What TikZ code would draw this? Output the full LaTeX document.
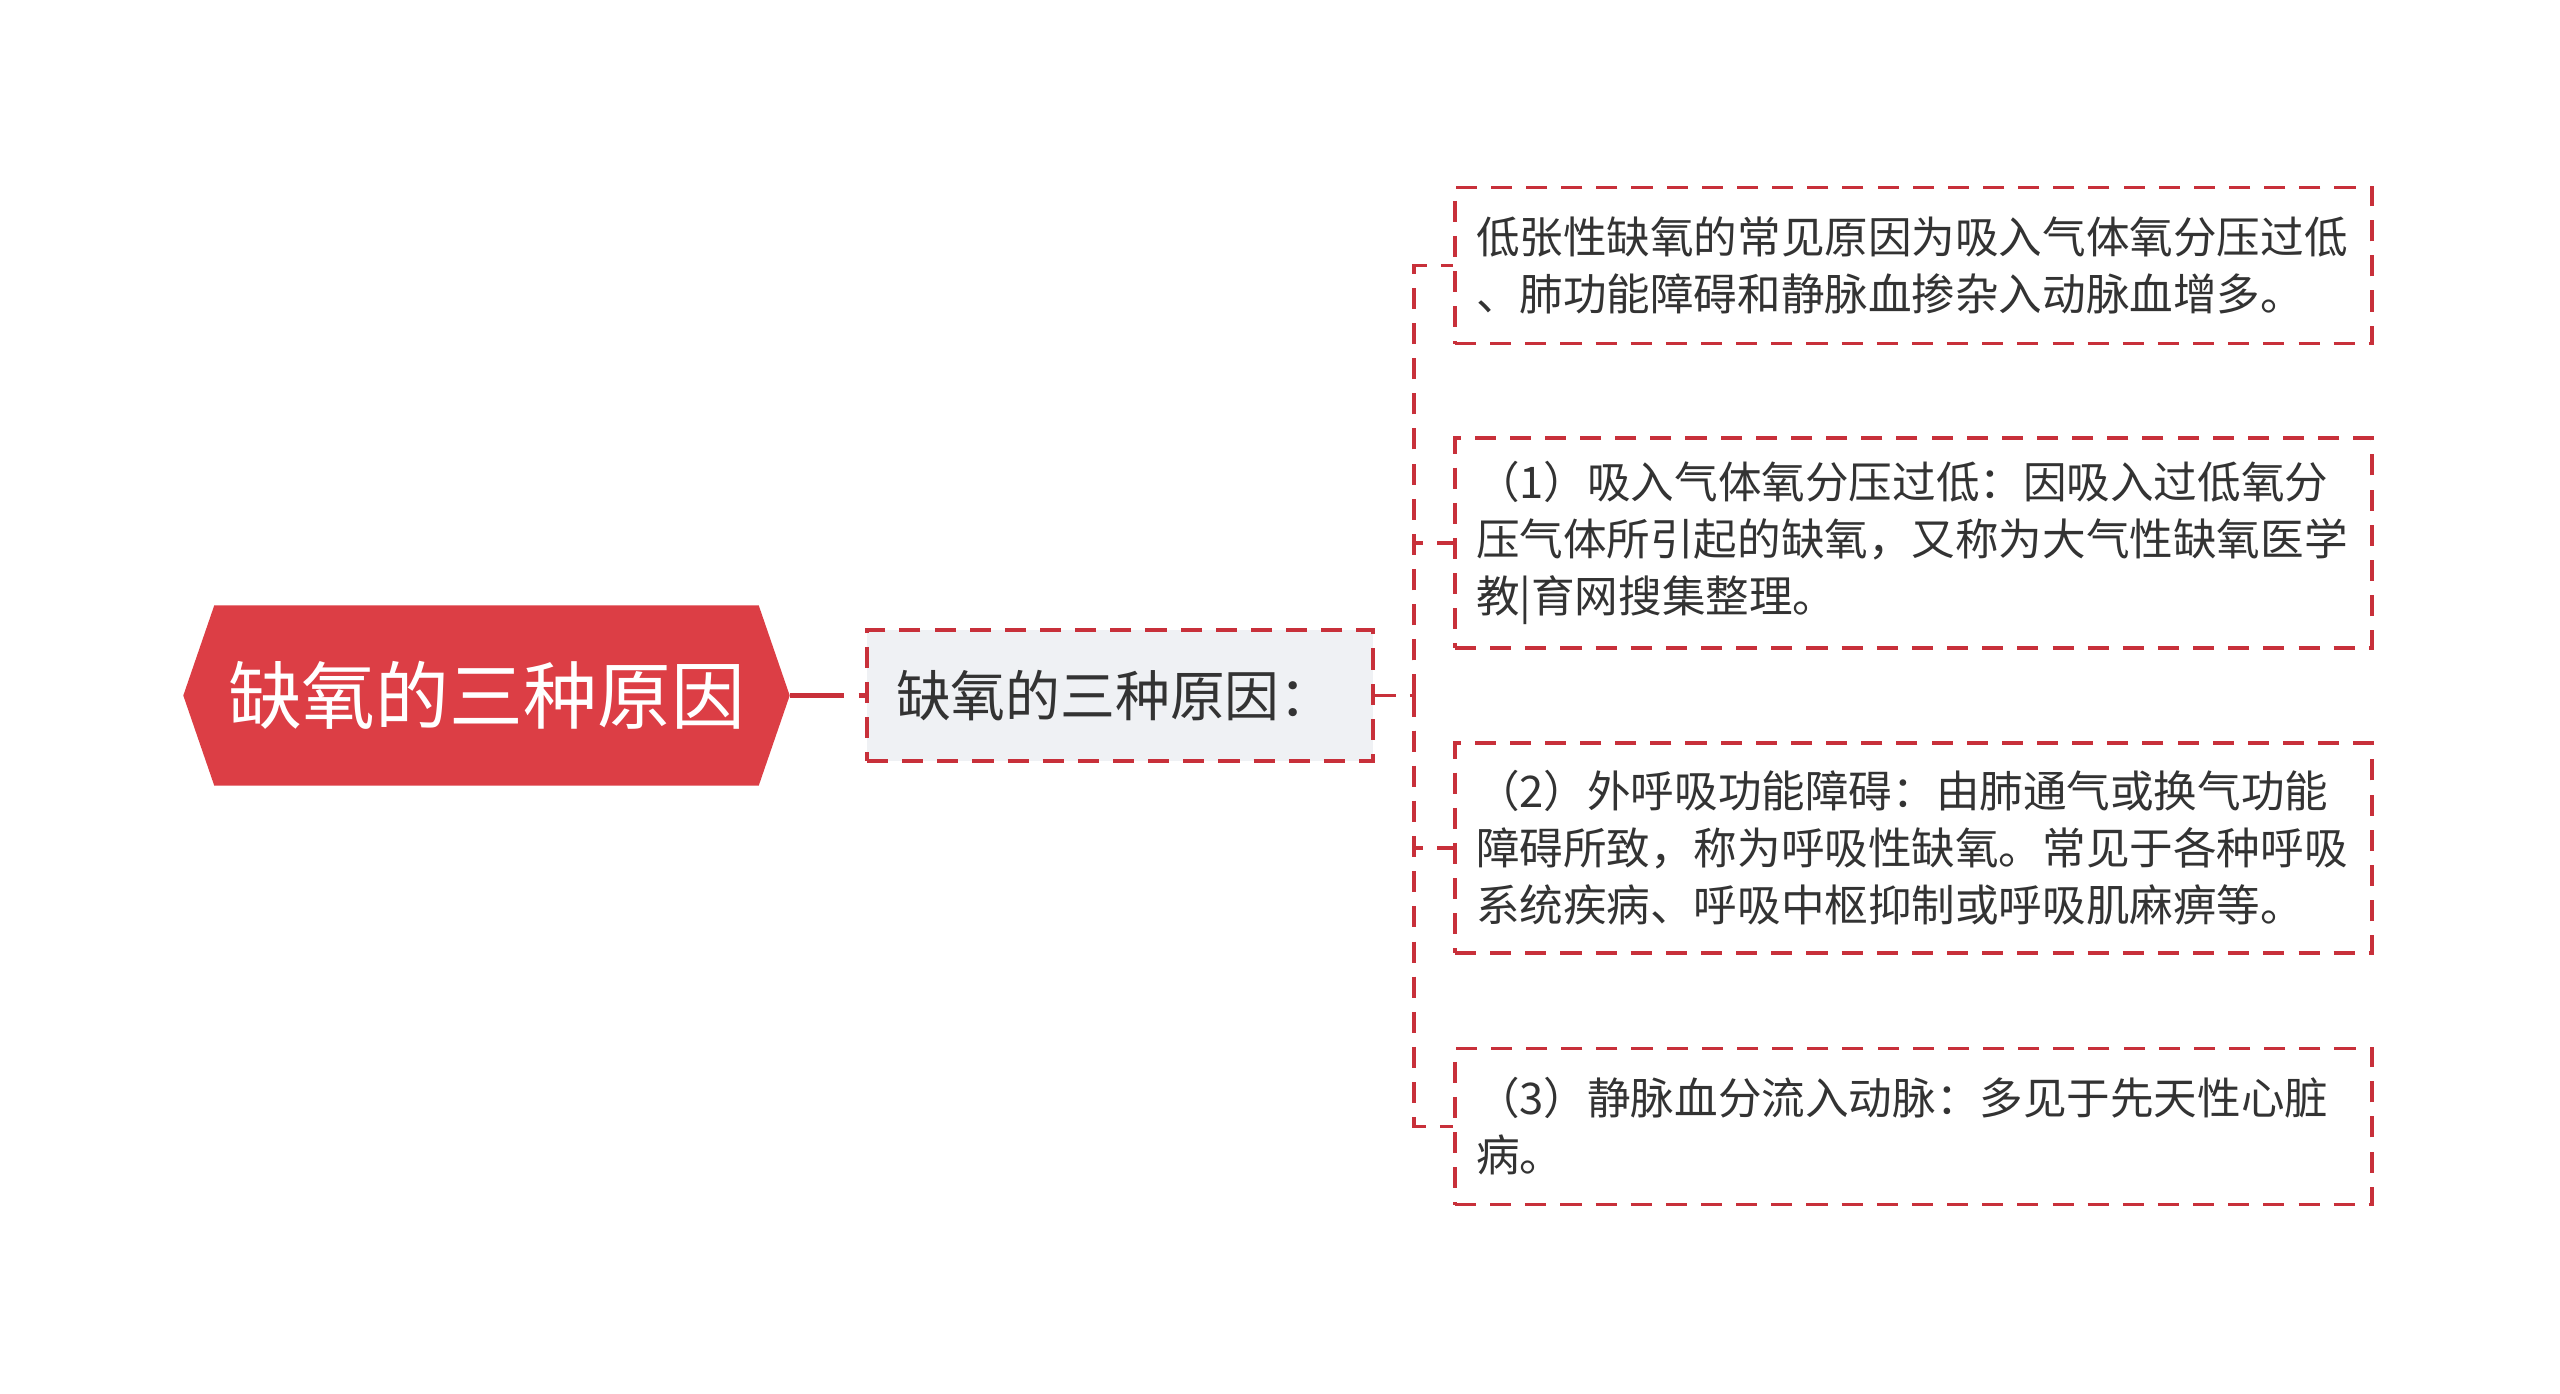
\documentclass[tikz,border=0pt]{standalone}
\usepackage{fontspec}
\setmainfont{Noto Sans CJK SC}
\usetikzlibrary{backgrounds}

\definecolor{rootred}{RGB}{220,62,69}
\definecolor{linered}{RGB}{200,48,58}
\definecolor{midgray}{RGB}{239,241,244}
\definecolor{textgray}{RGB}{51,51,51}

\begin{document}
\begin{tikzpicture}[
    redash/.style={draw=linered, line width=1pt, dash pattern=on 6pt off 4pt},
    rootbox/.style={minimum width=6.05cm, minimum height=1.79cm, inner sep=0pt, text=white, font=\fontsize{21}{25}\selectfont},
    midbox/.style={redash, fill=midgray, text width=4.48cm, inner xsep=0.29cm, inner ysep=0pt, minimum height=1.31cm, align=left, text=textgray, font=\fontsize{15.6}{18}\selectfont},
    leafbox/.style={redash, fill=white, text width=8.75cm, inner xsep=0.21cm, inner ysep=0pt, minimum height=1.56cm, align=left, text=textgray, font=\fontsize{12.4}{16.2}\selectfont},
    tallbox/.style={minimum height=2.1cm}]
    \useasboundingbox (0,0) rectangle (25.6,-13.93);

    % draw root
    \node[rootbox] (root) at (4.865,-6.955) {缺氧的三种原因};
    \begin{scope}[on background layer]
      \fill[rootred] (root.west) -- ([xshift=3.1mm]root.north west) -- ([xshift=-3.1mm]root.north east)
        -- (root.east) -- ([xshift=-3.1mm]root.south east) -- ([xshift=3.1mm]root.south west) -- cycle;
    \end{scope}

    % draw middle node
    \node[midbox] (mid) at (11.2,-6.955) {缺氧的三种原因：};

    % draw leaves
    \node[leafbox] (l1) at (19.135,-2.655) {低张性缺氧的常见原因为吸入气体氧分压过低\\、肺功能障碍和静脉血掺杂入动脉血增多。};
    \node[leafbox, tallbox] (l2) at (19.135,-5.43) {（1）吸入气体氧分压过低：因吸入过低氧分\\压气体所引起的缺氧，又称为大气性缺氧医学\\教|育网搜集整理。};
    \node[leafbox, tallbox] (l3) at (19.135,-8.48) {（2）外呼吸功能障碍：由肺通气或换气功能\\障碍所致，称为呼吸性缺氧。常见于各种呼吸\\系统疾病、呼吸中枢抑制或呼吸肌麻痹等。};
    \node[leafbox] (l4) at (19.135,-11.265) {（3）静脉血分流入动脉：多见于先天性心脏\\病。};

    % draw connectors
    \draw[linered, line width=1.3pt, dash pattern=on 0.54cm off 0.15cm] (root.east) -- (mid.west);
    \coordinate (bus) at (14.14,-6.955);
    \draw[redash] (mid.east) -- (bus);
    \foreach \n in {l1,l2,l3,l4}
      \draw[redash] (bus) |- (\n.west);
  \end{tikzpicture}
\end{document}
